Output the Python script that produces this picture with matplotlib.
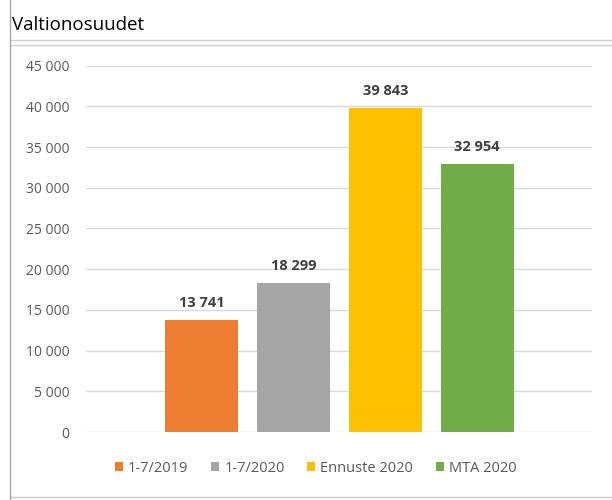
import matplotlib.pyplot as plt
import numpy as np
from matplotlib.lines import Line2D
from matplotlib.patches import Patch

# Valtionosuudet (tuhatta euroa)
series = ['1-7/2019', '1-7/2020', 'Ennuste 2020', 'MTA 2020']
values = [13741, 18299, 39843, 32954]
colors = ['#ED7D31', '#A5A5A5', '#FFC000', '#70AD47']
yticks = [0, 5000, 10000, 15000, 20000, 25000, 30000, 35000, 40000, 45000]

plt.rcParams['font.family'] = ['Open Sans', 'DejaVu Sans']


def fmt(v):
    return '{:,}'.format(v).replace(',', ' ')


fig = plt.figure(figsize=(6.12, 5), dpi=100)
ax = fig.add_axes([0.1405, 0.136, 0.8265, 0.7326])

x = np.arange(len(values))
bars = ax.bar(x, values, width=0.79, color=colors, zorder=3)
for b, v in zip(bars, values):
    ax.text(b.get_x() + b.get_width() / 2, v + 1200, fmt(v), ha='center', va='bottom',
            fontsize=10.5, fontweight='bold', color='#404040')

ax.set_xlim(-1.255, 4.245)
ax.set_ylim(0, 45000)
ax.set_yticks(yticks)
ax.set_yticklabels([fmt(t) for t in yticks], fontsize=10, color='#595959')
ax.set_xticks([])
ax.tick_params(axis='y', length=0, pad=12)
ax.grid(axis='y', color='#d9d9d9', linewidth=1, zorder=0)
for s in ax.spines.values():
    s.set_visible(False)

# title and frame lines
fig.text(0.02, 0.95, 'Valtionosuudet', fontsize=13.5, color='#000000', va='center')
for yy in [1 - 39.5 / 500, 1 - 45 / 500, 1 - 497 / 500]:
    fig.add_artist(Line2D([10 / 612, 1], [yy, yy], color='#cfcfcf', linewidth=1))
fig.add_artist(Line2D([10 / 612, 10 / 612], [0, 1], color='#a6a6a6', linewidth=1))

handles = [Patch(facecolor=c) for c in colors]
fig.legend(handles, series, loc='center', bbox_to_anchor=(0.516, 0.064), ncol=4,
           frameon=False, fontsize=10.5, handlelength=0.55, handleheight=0.55,
           handletextpad=0.35, columnspacing=1.55, labelcolor='#595959')

fig.savefig('out.png', dpi=100)
